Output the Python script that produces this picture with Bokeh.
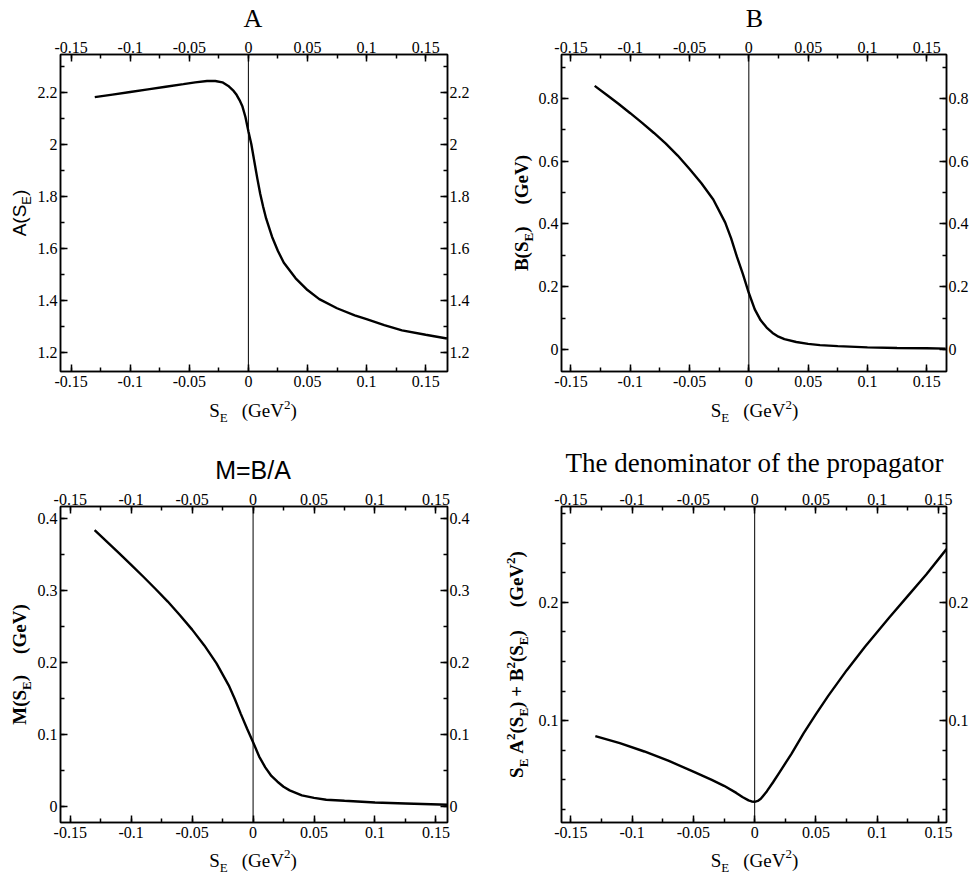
import math
from bokeh.plotting import figure
from bokeh.layouts import row, column
from bokeh.models import LinearAxis, FixedTicker, Span, Label, Range1d
from bokeh.embed import file_html
from bokeh.resources import INLINE

# ---------------- data ----------------
x_ticks = [-0.15, -0.1, -0.05, 0.0, 0.05, 0.1, 0.15]
x_tick_labels = ["-0.15", "-0.1", "-0.05", "0", "0.05", "0.1", "0.15"]
x_minor_ticks = [-0.15, -0.125, -0.1, -0.075, -0.05, -0.025, 0.0, 0.025,
                 0.05, 0.075, 0.1, 0.125, 0.15]

A_ticks = [1.2, 1.4, 1.6, 1.8, 2.0, 2.2]
A_tick_labels = ["1.2", "1.4", "1.6", "1.8", "2", "2.2"]
A_minor_ticks = [1.2, 1.3, 1.4, 1.5, 1.6, 1.7, 1.8, 1.9, 2.0, 2.1, 2.2, 2.3]

B_ticks = [0.0, 0.2, 0.4, 0.6, 0.8]
B_tick_labels = ["0", "0.2", "0.4", "0.6", "0.8"]
B_minor_ticks = [0.0, 0.1, 0.2, 0.3, 0.4, 0.5, 0.6, 0.7, 0.8, 0.9]

M_ticks = [0.0, 0.1, 0.2, 0.3, 0.4]
M_tick_labels = ["0", "0.1", "0.2", "0.3", "0.4"]
M_minor_ticks = [0.0, 0.05, 0.1, 0.15, 0.2, 0.25, 0.3, 0.35, 0.4]

D_ticks = [0.1, 0.2]
D_tick_labels = ["0.1", "0.2"]
D_minor_ticks = [0.025, 0.05, 0.075, 0.1, 0.125, 0.15, 0.175, 0.2, 0.225, 0.25, 0.275]

s_A = [-0.13, -0.115, -0.1, -0.085, -0.07, -0.055, -0.045, -0.035, -0.028, -0.022,
       -0.017, -0.0125, -0.01, -0.0075, -0.005, -0.0025, 0.0, 0.0025, 0.005, 0.0075,
       0.01, 0.0125, 0.015, 0.02, 0.025, 0.03, 0.04, 0.05, 0.06, 0.075,
       0.09, 0.1, 0.115, 0.13, 0.15, 0.168]
A_vals = [2.181, 2.191, 2.201, 2.211, 2.221, 2.231, 2.238, 2.243, 2.243, 2.238,
          2.224, 2.205, 2.19, 2.17, 2.145, 2.105, 2.05, 2.0, 1.935, 1.87,
          1.81, 1.76, 1.715, 1.645, 1.59, 1.545, 1.485, 1.44, 1.405, 1.37,
          1.343, 1.328, 1.305, 1.285, 1.268, 1.254]

s_B = [-0.13, -0.12, -0.11, -0.1, -0.09, -0.08, -0.07, -0.06, -0.05, -0.04,
       -0.03, -0.02, -0.015, -0.01, -0.005, 0.0, 0.005, 0.01, 0.015, 0.02,
       0.025, 0.03, 0.04, 0.05, 0.06, 0.075, 0.1, 0.125, 0.15, 0.166]
B_vals = [0.84, 0.812, 0.783, 0.753, 0.722, 0.69, 0.656, 0.618, 0.575, 0.53,
          0.478, 0.405, 0.355, 0.295, 0.24, 0.18, 0.128, 0.093, 0.07, 0.053,
          0.041, 0.033, 0.024, 0.018, 0.014, 0.011, 0.007, 0.005, 0.004, 0.003]

s_M = [-0.13, -0.12, -0.11, -0.1, -0.09, -0.08, -0.07, -0.06, -0.05, -0.04,
       -0.03, -0.02, -0.015, -0.01, -0.005, 0.0, 0.005, 0.01, 0.015, 0.02,
       0.025, 0.03, 0.04, 0.05, 0.06, 0.075, 0.1, 0.125, 0.16]
M_vals = [0.384, 0.368, 0.352, 0.3355, 0.319, 0.302, 0.2845, 0.2655, 0.2455, 0.2235,
          0.1985, 0.168, 0.149, 0.128, 0.108, 0.089, 0.069, 0.054, 0.042, 0.034,
          0.027, 0.022, 0.015, 0.0115, 0.009, 0.0075, 0.0052, 0.0038, 0.002]

s_D = [-0.13, -0.11, -0.09, -0.07, -0.05, -0.035, -0.025, -0.015, -0.01, -0.005,
       -0.0025, 0.0, 0.0025, 0.005, 0.01, 0.015, 0.02, 0.03, 0.04, 0.05,
       0.06, 0.075, 0.09, 0.1, 0.11, 0.125, 0.14, 0.1565]
D_vals = [0.087, 0.081, 0.074, 0.066, 0.057, 0.05, 0.045, 0.039, 0.0355, 0.0327,
          0.0318, 0.0315, 0.0322, 0.034, 0.0405, 0.048, 0.056, 0.072, 0.0895, 0.1055,
          0.121, 0.1425, 0.1625, 0.175, 0.1875, 0.2055, 0.2235, 0.245]

titles = ["A", "B", "M=B/A", "The denominator of the propagator"]

# ---------------- styling helpers ----------------
SERIF = "Liberation Serif"
SANS = "Liberation Sans"
TIMES = {' ': 250, '(': 333, ')': 333, '+': 564, '2': 500, 'A': 722, 'B': 667,
         'E': 611, 'G': 722, 'M': 889, 'S': 556, 'V': 722, 'e': 444}
TIMES_B = {' ': 250, '(': 333, ')': 333, '+': 570, '2': 500, 'A': 722, 'B': 667,
           'E': 667, 'G': 778, 'M': 944, 'S': 556, 'V': 722, 'e': 444}
ARIAL = {' ': 278, '(': 333, ')': 333, 'A': 667, 'E': 667, 'S': 667}
MID = 0.3375   # distance from the alphabetic baseline to the text middle, in em


def text_width(text, size, table):
    return sum(table[c] for c in text) * size / 1000.0


def text_canvas(w, h, frame_h=None):
    f = figure(width=w, height=h, x_range=Range1d(0, w),
               y_range=Range1d(0, h if frame_h is None else frame_h),
               output_backend="svg", toolbar_location=None,
               x_axis_type=None, y_axis_type=None, min_border=0)
    f.outline_line_color = None
    f.background_fill_color = "white"
    f.border_fill_color = "white"
    return f


def put(f, text, font, size, style, x, y, angle=0.0, align="left"):
    # (x, y) is the point on the alphabetic baseline; convert to the text middle
    if angle == 0.0:
        y = y + MID * size
    else:
        x = x - MID * size
    f.add_layout(Label(x=x, y=y, text=text, text_font=font,
                       text_font_size=f"{size}px", text_font_style=style,
                       text_color="black", angle=angle, angle_units="rad",
                       text_align=align, text_baseline="middle"))


def rich(f, segs, font, style, table, horizontal, center, base):
    widths = [s if t is None else text_width(t, s, table) for t, s, _ in segs]
    pos = center - sum(widths) / 2.0
    for (t, s, shift), w in zip(segs, widths):
        if t is not None:
            if horizontal:
                put(f, t, font, s, style, pos, base + shift)
            else:
                put(f, t, font, s, style, base - shift, pos, angle=math.pi / 2)
        pos += w


def style_axis(ax, ticks, minor, labels, standoff, font_size="16px"):
    ax.ticker = FixedTicker(ticks=ticks, minor_ticks=minor)
    ax.major_label_overrides = dict(zip(ticks, labels))
    ax.axis_line_color = "black"
    ax.axis_line_width = 1.5
    ax.major_tick_in = 7
    ax.major_tick_out = 0
    ax.minor_tick_in = 4
    ax.minor_tick_out = 0
    ax.major_tick_line_color = "black"
    ax.minor_tick_line_color = "black"
    ax.major_tick_line_width = 1.5
    ax.minor_tick_line_width = 1.5
    ax.major_label_text_font = SERIF
    ax.major_label_text_font_size = font_size
    ax.major_label_text_color = "black"
    ax.major_label_standoff = standoff


def make_panel(width, height, bl, bt, fw, fh, xr, yr, yticks, yminor, ylabels, xs, ys):
    p = figure(width=width, height=height, x_range=Range1d(*xr), y_range=Range1d(*yr),
               output_backend="svg", toolbar_location=None,
               min_border_left=bl, min_border_right=width - bl - fw,
               min_border_top=bt, min_border_bottom=height - bt - fh)
    p.xgrid.visible = False
    p.ygrid.visible = False
    p.outline_line_color = "black"
    p.outline_line_width = 1.5
    p.background_fill_color = "white"
    p.border_fill_color = "white"
    top = LinearAxis()
    right = LinearAxis()
    p.add_layout(top, "above")
    p.add_layout(right, "right")
    style_axis(p.below[0], x_ticks, x_minor_ticks, x_tick_labels, 4)
    style_axis(top, x_ticks, x_minor_ticks, x_tick_labels, 2)
    style_axis(p.left[0], yticks, yminor, ylabels, 3)
    style_axis(right, yticks, yminor, ylabels, 2)
    p.add_layout(Span(location=0, dimension="height", line_color="black", line_width=1))
    p.line(xs, ys, line_color="black", line_width=2.4)
    return p


# ---------------- page geometry (page has no margin) ----------------
YW1, MW1, YW2, MW2 = 34, 440, 61, 436
CW1, CW2 = YW1 + MW1, YW2 + MW2
FW1, FW2 = 389, 390
TH1, MH1, XH1 = 33, 363, 50          # row 1: title / main / xlabel
TH2, MH2, XH2 = 39, 361, 28          # row 2
BT, BL = 21, 24
FH1, FH2 = 317, 316

pA = make_panel(MW1, MH1, BL, BT, FW1, FH1, (-0.159, 0.1685), (1.127, 2.345),
                A_ticks, A_minor_ticks, A_tick_labels, s_A, A_vals)
pB = make_panel(MW2, MH1, BL, BT, FW2, FH1, (-0.158, 0.1667), (-0.07, 0.94),
                B_ticks, B_minor_ticks, B_tick_labels, s_B, B_vals)
pC = make_panel(MW1, MH2, BL, BT, FW1, FH2, (-0.158, 0.1595), (-0.0227, 0.4167),
                M_ticks, M_minor_ticks, M_tick_labels, s_M, M_vals)
pD = make_panel(MW2, MH2, BL, BT, FW2, FH2, (-0.1576, 0.1565), (0.014, 0.281),
                D_ticks, D_minor_ticks, D_tick_labels, s_D, D_vals)

CX1 = YW1 + BL + FW1 / 2
CX2 = YW2 + BL + FW2 / 2

# titles
tA = text_canvas(CW1, TH1)
tB = text_canvas(CW2, TH1)
tC = text_canvas(CW1, TH2)
tD = text_canvas(CW2, TH2)
put(tA, titles[0], SERIF, 26, "normal", CX1, 6, align="center")
put(tB, titles[1], SERIF, 26, "normal", CX2, 6, align="center")
put(tC, titles[2], SANS, 25, "normal", CX1, 6.7, align="center")
put(tD, titles[3], SERIF, 27, "normal", CX2, 13.3, align="center")

# x-axis labels: S_E  (GeV^2)
xlab = [("S", 19, 0), ("E", 13, -5), (None, 14, 0), ("(GeV", 19, 0), ("2", 13, 8), (")", 19, 0)]
xA = text_canvas(CW1, XH1)
xB = text_canvas(CW2, XH1)
xC = text_canvas(CW1, XH2)
xD = text_canvas(CW2, XH2)
rich(xA, xlab, SERIF, "normal", TIMES, True, CX1, 29.3)
rich(xB, xlab, SERIF, "normal", TIMES, True, CX2, 29.3)
rich(xC, xlab, SERIF, "normal", TIMES, True, CX1, 8)
rich(xD, xlab, SERIF, "normal", TIMES, True, CX2, 8)

# y-axis labels (rotated); these strips share the frame rows of the panels
yA = text_canvas(YW1, MH1, FH1)
yB = text_canvas(YW2, MH1, FH1)
yC = text_canvas(YW1, MH2, FH2)
yD = text_canvas(YW2, MH2, FH2)
rich(yA, [("A(S", 19, 0), ("E", 13, -5), (")", 19, 0)],
     SANS, "normal", ARIAL, False, FH1 / 2, 25)
rich(yB, [("B(S", 19, 0), ("E", 13, -5), (")", 19, 0), (None, 22, 0), ("(GeV)", 19, 0)],
     SERIF, "bold", TIMES_B, False, FH1 / 2, 53)
rich(yC, [("M(S", 19, 0), ("E", 13, -5), (")", 19, 0), (None, 21, 0), ("(GeV)", 19, 0)],
     SERIF, "bold", TIMES_B, False, FH2 / 2, 25)
rich(yD, [("S", 19, 0), ("E", 13, -5), (None, 5, 0), ("A", 19, 0), ("2", 13, 8),
          ("(S", 19, 0), ("E", 13, -5), (") + B", 19, 0), ("2", 13, 8),
          ("(S", 19, 0), ("E", 13, -5), (")", 19, 0), (None, 23, 0),
          ("(GeV", 19, 0), ("2", 13, 8), (")", 19, 0)],
     SERIF, "bold", TIMES_B, False, FH2 / 2, 48.7)

layout = column(
    row(tA, tB),
    row(yA, pA, yB, pB),
    row(xA, xB),
    row(tC, tD),
    row(yC, pC, yD, pD),
    row(xC, xD),
)
open("out.html", "w").write(file_html(layout, INLINE))
